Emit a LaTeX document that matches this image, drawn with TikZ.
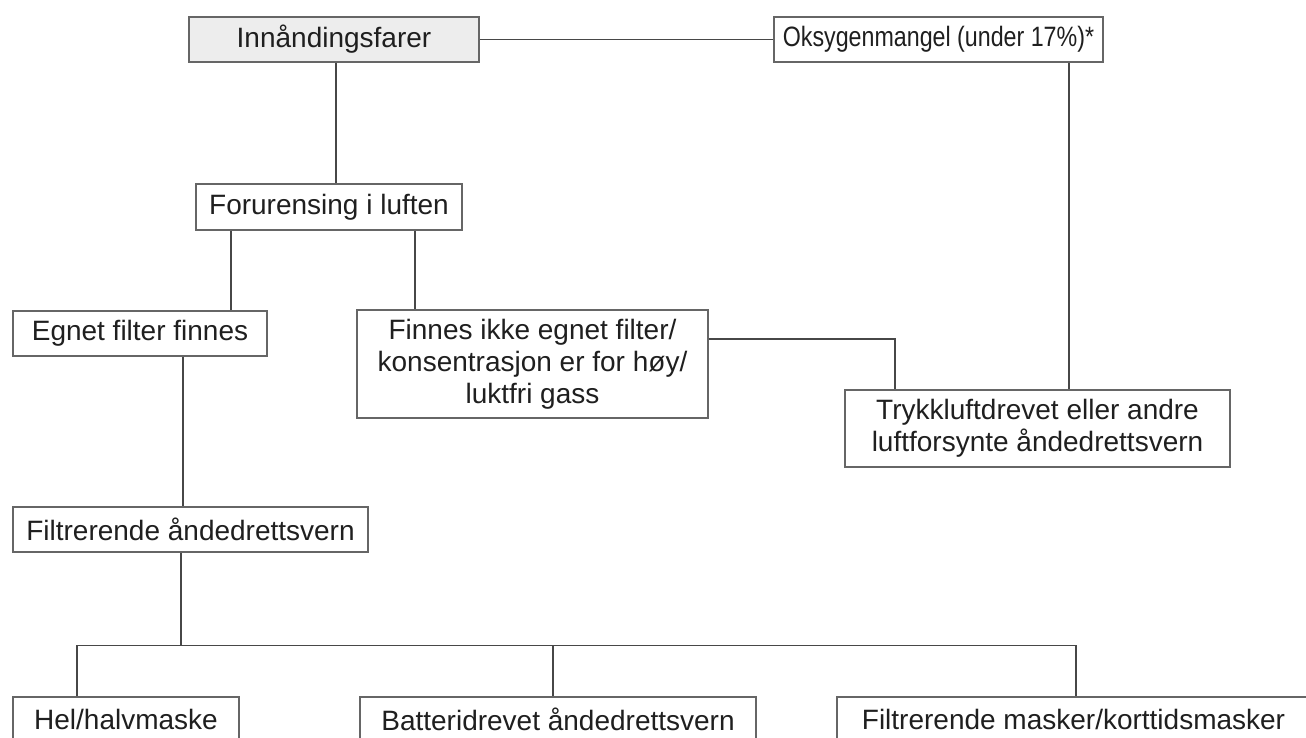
\documentclass[tikz,border=0pt]{standalone}
\usepackage{fontspec}
\setmainfont{Liberation Sans}
\begin{document}
\begin{tikzpicture}[x=1pt,y=-1pt,
  every node/.style={font=\fontsize{28}{32}\selectfont, text=black!88},
  box/.style={draw=black!60, line width=1.2pt, inner sep=0pt, align=center},
  link/.style={draw=black!72, line width=1.2pt}]
\useasboundingbox (0,0) rectangle (1306,737);
\clip (0,0) rectangle (1306,737);
\fill[white] (0,0) rectangle (1306,737);
% boxes
\node[box, fill=black!7, minimum width=290, minimum height=45] (inn) at (334,39.5) {Innåndingsfarer};
\node[box, minimum width=329, minimum height=45] (oks) at (938.5,39.5) {\scalebox{0.83}[1]{Oksygenmangel (under 17\%)*}};
\node[box, minimum width=266, minimum height=46] (for) at (329,207) {Forurensing i luften};
\node[box, minimum width=254, minimum height=45] (egn) at (140,333.5) {Egnet filter finnes};
\node[box, minimum width=351, minimum height=108] (fin) at (532.5,364) {Finnes ikke egnet filter/\\konsentrasjon er for høy/\\luktfri gass};
\node[box, minimum width=385, minimum height=77] (try) at (1037.5,428.5) {Trykkluftdrevet eller andre\\luftforsynte åndedrettsvern};
\node[box, minimum width=355, minimum height=45] (fil) at (190.5,529.5) {Filtrerende åndedrettsvern};
\node[box, minimum width=226, minimum height=45] (hel) at (126,719.5) {Hel/halvmaske};
\node[box, minimum width=396, minimum height=45] (bat) at (558,719.5) {Batteridrevet åndedrettsvern};
\node[box, minimum width=473, minimum height=45] (ftm) at (1073.5,719.5) {Filtrerende masker/korttidsmasker};
% connectors
\draw[link] (inn.east) -- (oks.west);
\draw[link] ([xshift=2]inn.south) -- ([xshift=2]inn.south |- for.north);
\draw[link] ([xshift=-98]for.south) -- ([xshift=-98]for.south |- egn.north);
\draw[link] ([xshift=86]for.south) -- ([xshift=86]for.south |- fin.north);
\draw[link] ([yshift=25]fin.east) -| ([xshift=-142.5]try.north);
\draw[link] ([xshift=130.5]oks.south) -- ([xshift=130.5]oks.south |- try.north);
\draw[link] ([xshift=43]egn.south) -- ([xshift=43]egn.south |- fil.north);
\draw[link] ([xshift=-9.5]fil.south) -- ++(0,93) coordinate (bus);
\draw[link] ([xshift=-49]hel.north) -- ([xshift=-49]hel.north |- bus) -- ([xshift=2.5]ftm.north |- bus) -- ([xshift=2.5]ftm.north);
\draw[link] ([xshift=-5]bat.north) -- ([xshift=-5]bat.north |- bus);
\end{tikzpicture}
\end{document}
